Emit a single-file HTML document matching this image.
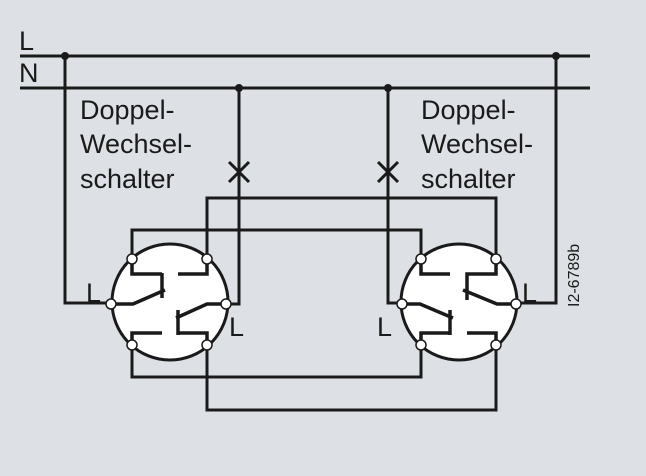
<!DOCTYPE html>
<html><head><style>body{margin:0;background:#dde1e5}svg{display:block}</style></head><body>
<svg width="646" height="476" viewBox="0 0 646 476" xmlns="http://www.w3.org/2000/svg" font-family="Liberation Sans, sans-serif" fill="#1a1a1a">
<rect width="646" height="476" fill="#dde1e5"/>
<g stroke="#1a1a1a" stroke-width="3" fill="none">
<line x1="20" y1="56" x2="590" y2="56"/>
<line x1="20" y1="88" x2="590" y2="88"/>
<polyline points="65,56 65,303 111,303"/>
<polyline points="239,88 239,304 226,304"/>
<polyline points="388,88 388,303 402,303"/>
<polyline points="556,56 556,303 516,303"/>
<polyline points="132,259 132,230 421,230 421,259"/>
<polyline points="207,259 207,198 496,198 496,259"/>
<polyline points="132,345 132,377 421,377 421,345"/>
<polyline points="207,345 207,410 496,410 496,345"/>
<line x1="229" y1="162" x2="249" y2="182"/><line x1="249" y1="162" x2="229" y2="182"/>
<line x1="378" y1="162" x2="398" y2="182"/><line x1="398" y1="162" x2="378" y2="182"/>
</g>
<circle cx="170" cy="302" r="58" fill="#fff" stroke="#1a1a1a" stroke-width="3"/>
<circle cx="459" cy="302" r="58" fill="#fff" stroke="#1a1a1a" stroke-width="3"/>
<g stroke="#1a1a1a" stroke-width="3.5" fill="none">
<polyline points="132,259 132,274 162,274"/><line x1="162" y1="273" x2="162" y2="298"/>
<polyline points="207,259 207,274 178,274"/>
<polyline points="111,304 133,304 165,290"/>
<polyline points="226,304 207,304 176,318"/><line x1="178" y1="310" x2="178" y2="335"/>
<polyline points="178,333 207,333 207,345"/>
<polyline points="132,345 132,333 162,333"/>
<polyline points="421,259 421,274 450,274"/>
<polyline points="496,259 496,274 467,274 467,300"/>
<polyline points="516,304 497,304 463,290"/>
<polyline points="402,304 420,304 453,318"/><line x1="450" y1="310" x2="450" y2="335"/>
<polyline points="421,345 421,333 450,333"/>
<polyline points="496,345 496,333 467,333"/>
</g>
<g fill="#1a1a1a"><circle cx="65" cy="56" r="4"/><circle cx="556" cy="56" r="4"/><circle cx="239" cy="88" r="4"/><circle cx="388" cy="88" r="4"/></g>
<g fill="#fff" stroke="#1a1a1a" stroke-width="1.5">
<circle cx="132" cy="259" r="5"/><circle cx="207" cy="259" r="5"/><circle cx="111" cy="304" r="5"/><circle cx="226" cy="304" r="5"/><circle cx="132" cy="345" r="5"/><circle cx="207" cy="345" r="5"/>
<circle cx="421" cy="259" r="5"/><circle cx="496" cy="259" r="5"/><circle cx="402" cy="304" r="5"/><circle cx="516" cy="304" r="5"/><circle cx="421" cy="345" r="5"/><circle cx="496" cy="345" r="5"/>
</g>
<g font-size="27">
<text x="19" y="50">L</text><text x="19" y="82">N</text>
<text x="80" y="119">Doppel-</text><text x="80" y="153">Wechsel-</text><text x="80" y="188">schalter</text>
<text x="421" y="119">Doppel-</text><text x="421" y="153">Wechsel-</text><text x="421" y="188">schalter</text>
<text x="86" y="302">L</text><text x="229" y="336">L</text><text x="377" y="336">L</text><text x="522" y="302">L</text>
</g>
<text x="0" y="0" font-size="16" transform="translate(579,307) rotate(-90)">I2-6789b</text>
</svg>
</body></html>
